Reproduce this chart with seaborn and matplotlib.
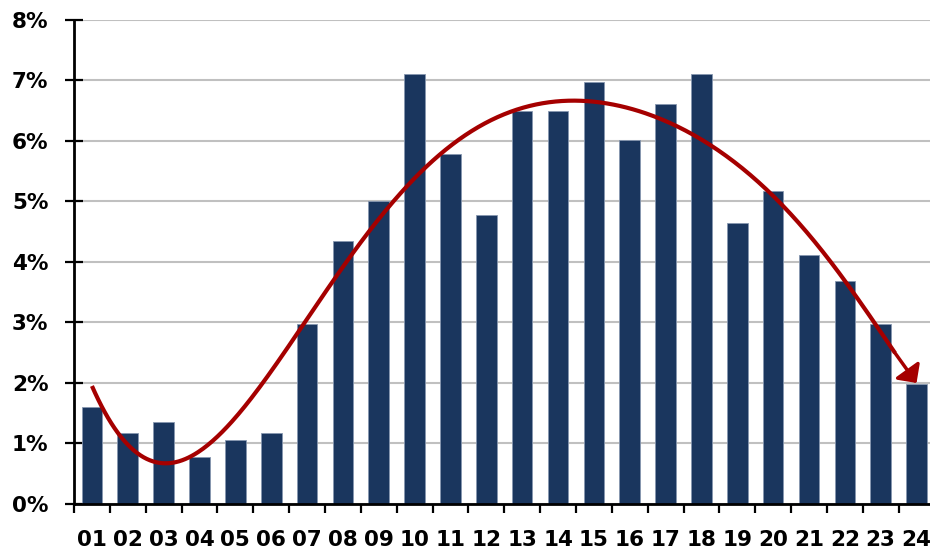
import numpy as np
import pandas as pd
import matplotlib
matplotlib.use("Agg")
import matplotlib.pyplot as plt
import seaborn as sns
from matplotlib.ticker import FixedLocator, FuncFormatter

# Share of the total per period (%), periods 01-24
periods = ["01", "02", "03", "04", "05", "06", "07", "08", "09", "10", "11", "12",
           "13", "14", "15", "16", "17", "18", "19", "20", "21", "22", "23", "24"]
shares = [1.60, 1.18, 1.36, 0.77, 1.06, 1.18, 2.98, 4.35, 5.00, 7.10, 5.78, 4.77,
          6.50, 6.50, 6.98, 6.02, 6.61, 7.10, 4.65, 5.18, 4.11, 3.69, 2.98, 1.99]
# Trend curve, value at each period (%)
trend = [1.93, 1.04, 0.64, 0.86, 1.38, 2.22, 3.10, 3.97, 4.69, 5.33, 5.87, 6.32,
         6.57, 6.70, 6.66, 6.52, 6.32, 6.01, 5.60, 5.08, 4.50, 3.70, 2.80, 2.00]
y_ticks = [0, 1, 2, 3, 4, 5, 6, 7, 8]
trend_degree = 7

BAR_COLOR = "#1a365e"
TREND_COLOR = "#a50000"
GRID_COLOR = "#c0c0c0"

sns.set_theme(style="white")
plt.rcParams["font.family"] = ["DejaVu Sans"]
plt.rcParams["font.weight"] = "bold"

df = pd.DataFrame({"period": periods, "share": shares})

fig = plt.figure(figsize=(9.30, 5.54), dpi=100)
ax = fig.add_axes([0.0796, 0.0903, 0.9252, 0.8736])

sns.barplot(data=df, x="period", y="share", color=BAR_COLOR, saturation=1,
            width=0.575, edgecolor="#8797b0", linewidth=0.6, ax=ax, zorder=3)

# Smoothed trend curve; the last stretch is a straight arrow ending on the final value
idx = np.arange(len(trend))
poly = np.poly1d(np.polyfit(idx, trend, trend_degree))
x_last = len(trend) - 1
x_arrow = x_last - 0.6
cx = np.linspace(0, x_arrow, 500)
ax.plot(cx, poly(cx), color=TREND_COLOR, lw=3, solid_capstyle="butt", zorder=5)
ax.annotate("", xy=(x_last, trend[-1]), xytext=(x_arrow, poly(x_arrow)),
            arrowprops=dict(arrowstyle="-|>,head_length=0.45,head_width=0.45",
                            mutation_scale=20, color=TREND_COLOR, lw=2.5,
                            shrinkA=0, shrinkB=0),
            zorder=6)

ax.set_xlim(-0.5, len(shares) - 0.5)
ax.set_ylim(0, 8)
ax.set_yticks(y_ticks)
ax.yaxis.set_major_formatter(FuncFormatter(lambda v, p: f"{v:.0f}%"))
ax.yaxis.grid(True, color=GRID_COLOR, lw=1.5, zorder=0)
ax.set_axisbelow(True)

# Category labels under the bars, tick marks on the category boundaries
ax.xaxis.set_minor_locator(FixedLocator(np.arange(-0.5, len(shares), 1.0)))
ax.tick_params(axis="x", which="major", length=0, pad=19, labelsize=15.5)
ax.tick_params(axis="x", which="minor", direction="out", length=6.5, width=1.6,
               color="black", bottom=True)
ax.tick_params(axis="y", which="major", direction="inout", length=13, width=1.6,
               color="black", left=True, pad=12, labelsize=15.5)
for lbl in ax.get_xticklabels() + ax.get_yticklabels():
    lbl.set_fontweight("bold")
    lbl.set_color("black")

ax.set_xlabel("")
ax.set_ylabel("")
for side in ["top", "right"]:
    ax.spines[side].set_visible(False)
for side in ["left", "bottom"]:
    ax.spines[side].set_color("black")
    ax.spines[side].set_linewidth(2)
    ax.spines[side].set_zorder(7)

fig.savefig("out.png", dpi=100)
